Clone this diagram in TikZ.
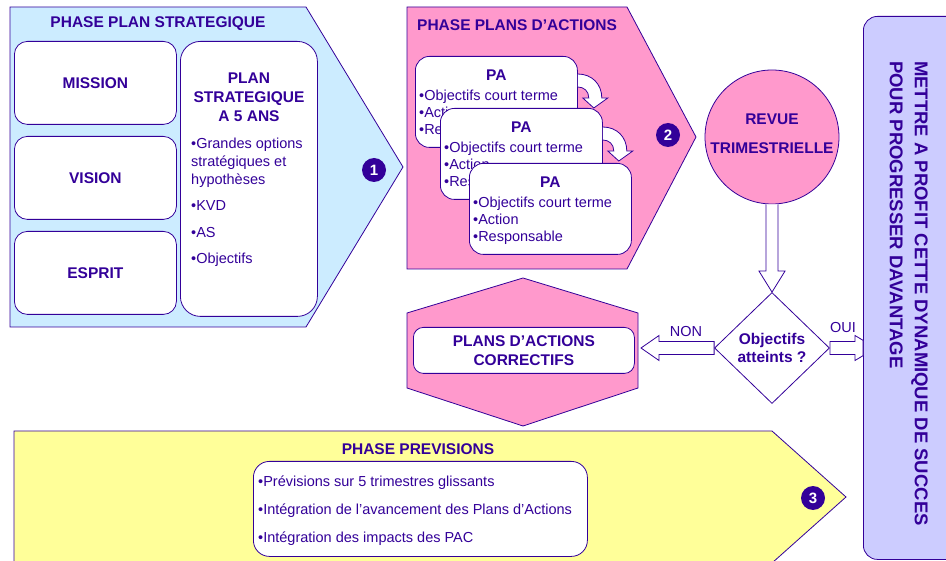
\documentclass[tikz,border=0pt]{standalone}
\usepackage{fontspec}
\setmainfont{Liberation Sans}
\usetikzlibrary{shapes.geometric}
\definecolor{ink}{HTML}{330099}
\definecolor{skyfill}{HTML}{CCECFF}
\definecolor{rosefill}{HTML}{FF99CC}
\definecolor{lemonfill}{HTML}{FFFF99}
\definecolor{lilacfill}{HTML}{CCCCFF}

\tikzset{
  outline/.style={draw=ink, line width=0.8pt},
  card/.style={outline, fill=white, rounded corners=13pt, inner sep=0pt, anchor=north west},
  head/.style={text=ink, inner sep=0pt, align=center, font=\bfseries\fontsize{15.5}{19}\selectfont},
  txt/.style={text=ink, inner sep=0pt, align=left, font=\fontsize{14.5}{17}\selectfont},
  badge/.style={circle, fill=ink, text=white, minimum size=24pt, inner sep=0pt, font=\bfseries\fontsize{15}{15}\selectfont},
  hollow/.style={outline, fill=white, line join=miter},
  curlarrow/.pic={\draw[hollow] (0,0) .. controls (14,0) and (24,10) .. (24,24) -- (30,24) -- (16,34) -- (5,24) -- (11,24) .. controls (11,17) and (6,13) .. (0,13);},
}

\begin{document}
\begin{tikzpicture}[x=1pt, y=-1pt]
\useasboundingbox (0,0) rectangle (946,561);

\draw[outline, fill=skyfill] (10,7) -- (306,7) -- (403,167) -- (306,327) -- (10,327) -- cycle;
\node[head] (phase1) at (158,24) {PHASE PLAN STRATEGIQUE};
\node[card, head, minimum width=162pt, minimum height=83pt] (mission) at (14,41) {MISSION};
\node[card, head, minimum width=162pt, minimum height=83pt] (vision) at (14,136) {VISION};
\node[card, head, minimum width=162pt, minimum height=83pt] (esprit) at (14,231) {ESPRIT};
\node[card, rounded corners=20pt, minimum width=137pt, minimum height=275pt] (plan) at (180,41) {};
\node[head] (plantitle) at (249,97) {PLAN\\STRATEGIQUE\\A 5 ANS};
\node[txt, anchor=north west, font=\fontsize{14.5}{18}\selectfont] (planlist) at (191,137.5)
  {•Grandes options\\stratégiques et\\hypothèses\\[8pt]•KVD\\[9pt]•AS\\[8pt]•Objectifs};
\node[badge] (n1) at (374,170) {1};

\draw[outline, fill=rosefill] (407,7) -- (627,7) -- (696,137) -- (627,269) -- (407,269) -- cycle;
\node[head, anchor=west] (phase2) at (417,25) {PHASE PLANS D’ACTIONS};
\node[card, rounded corners=14pt, minimum width=162pt, minimum height=91pt] (pa1) at (415,56) {};
\node[head] at ([yshift=-19pt]pa1.north) {PA};
\node[txt, anchor=north west] at ([xshift=4pt,yshift=-33.5pt]pa1.north west) {•Objectifs court terme\\•Action\\•Responsable};
\pic at ([yshift=-18pt]pa1.north east) {curlarrow};
\node[card, rounded corners=14pt, minimum width=162pt, minimum height=91pt] (pa2) at (440,108) {};
\node[head] at ([yshift=-19pt]pa2.north) {PA};
\node[txt, anchor=north west] at ([xshift=4pt,yshift=-33.5pt]pa2.north west) {•Objectifs court terme\\•Action\\•Responsable};
\pic at ([yshift=-19pt]pa2.north east) {curlarrow};
\node[card, rounded corners=14pt, minimum width=162pt, minimum height=91pt] (pa3) at (469,163) {};
\node[head] at ([yshift=-19pt]pa3.north) {PA};
\node[txt, anchor=north west] at ([xshift=4pt,yshift=-33.5pt]pa3.north west) {•Objectifs court terme\\•Action\\•Responsable};
\node[badge] (n2) at (668,135) {2};

\node[circle, outline, fill=rosefill, minimum size=134pt, inner sep=0pt] (revue) at (772,137) {};
\node[head] (revuetext) at ([yshift=3pt]revue.center) {REVUE\\[10pt]TRIMESTRIELLE};
\node[diamond, outline, fill=white, minimum width=115pt, minimum height=111pt, head,
  font=\bfseries\fontsize{15.5}{18}\selectfont] (diam) at (772,348) {Objectifs\\atteints ?};
\draw[hollow] ([xshift=-6pt]revue.south) -- ([xshift=-6pt,yshift=21pt]diam.north)
  -- ([xshift=-13pt,yshift=21pt]diam.north) -- (diam.north) -- ([xshift=13pt,yshift=21pt]diam.north)
  -- ([xshift=6pt,yshift=21pt]diam.north) -- ([xshift=6pt]revue.south);

\draw[outline, fill=rosefill] (523,278) -- (638,313) -- (638,388) -- (523,426) -- (407,388) -- (407,313) -- cycle;
\node[card, head, rounded corners=10pt, minimum width=221pt, minimum height=46pt] (pac) at (413,327) {PLANS D’ACTIONS\\CORRECTIFS};
\coordinate (pacright) at (641,348);
\draw[hollow] ([yshift=6.5pt]diam.west) -- ([xshift=18pt,yshift=6.5pt]pacright)
  -- ([xshift=18pt,yshift=12.5pt]pacright) -- (pacright) -- ([xshift=18pt,yshift=-12.5pt]pacright)
  -- ([xshift=18pt,yshift=-6.5pt]pacright) -- ([yshift=-6.5pt]diam.west) -- cycle;
\node[txt] (non) at (686,332) {NON};

\node[outline, fill=lilacfill, rounded corners=14pt, minimum width=140pt, minimum height=543pt, anchor=north west, inner sep=0pt] (profit) at (863,16) {};
\node[rotate=-90, anchor=north west, inner sep=0pt, align=left, text=ink,
  font=\bfseries\fontsize{18.5}{25}\selectfont] (motto) at (928,61)
  {METTRE A PROFIT CETTE DYNAMIQUE DE SUCCES\\POUR PROGRESSER DAVANTAGE};
\coordinate (oui) at (profit.west |- diam.east);
\draw[hollow] ([yshift=6.5pt]diam.east) -- ([xshift=-8pt,yshift=6.5pt]oui)
  -- ([xshift=-8pt,yshift=12.5pt]oui) -- ([yshift=7.7pt]oui) -- ([yshift=-7.7pt]oui)
  -- ([xshift=-8pt,yshift=-12.5pt]oui) -- ([xshift=-8pt,yshift=-6.5pt]oui) -- ([yshift=-6.5pt]diam.east) -- cycle;
\node[txt] (ouilabel) at (843,328) {OUI};

\draw[outline, fill=lemonfill] (14,431) -- (772,431) -- (846,497) -- (772,563) -- (14,563) -- cycle;
\node[head] (phase3) at (418,449) {PHASE PREVISIONS};
\node[card, rounded corners=16pt, minimum width=334pt, minimum height=95pt] (prev) at (253,461) {};
\node[txt, anchor=north west, font=\fontsize{14.5}{28}\selectfont] (prevlist) at ([xshift=5pt,yshift=-14.5pt]prev.north west)
  {•Prévisions sur 5 trimestres glissants\\•Intégration de l’avancement des Plans d’Actions\\•Intégration des impacts des PAC};
\node[badge] (n3) at (813,498) {3};
\end{tikzpicture}
\end{document}
